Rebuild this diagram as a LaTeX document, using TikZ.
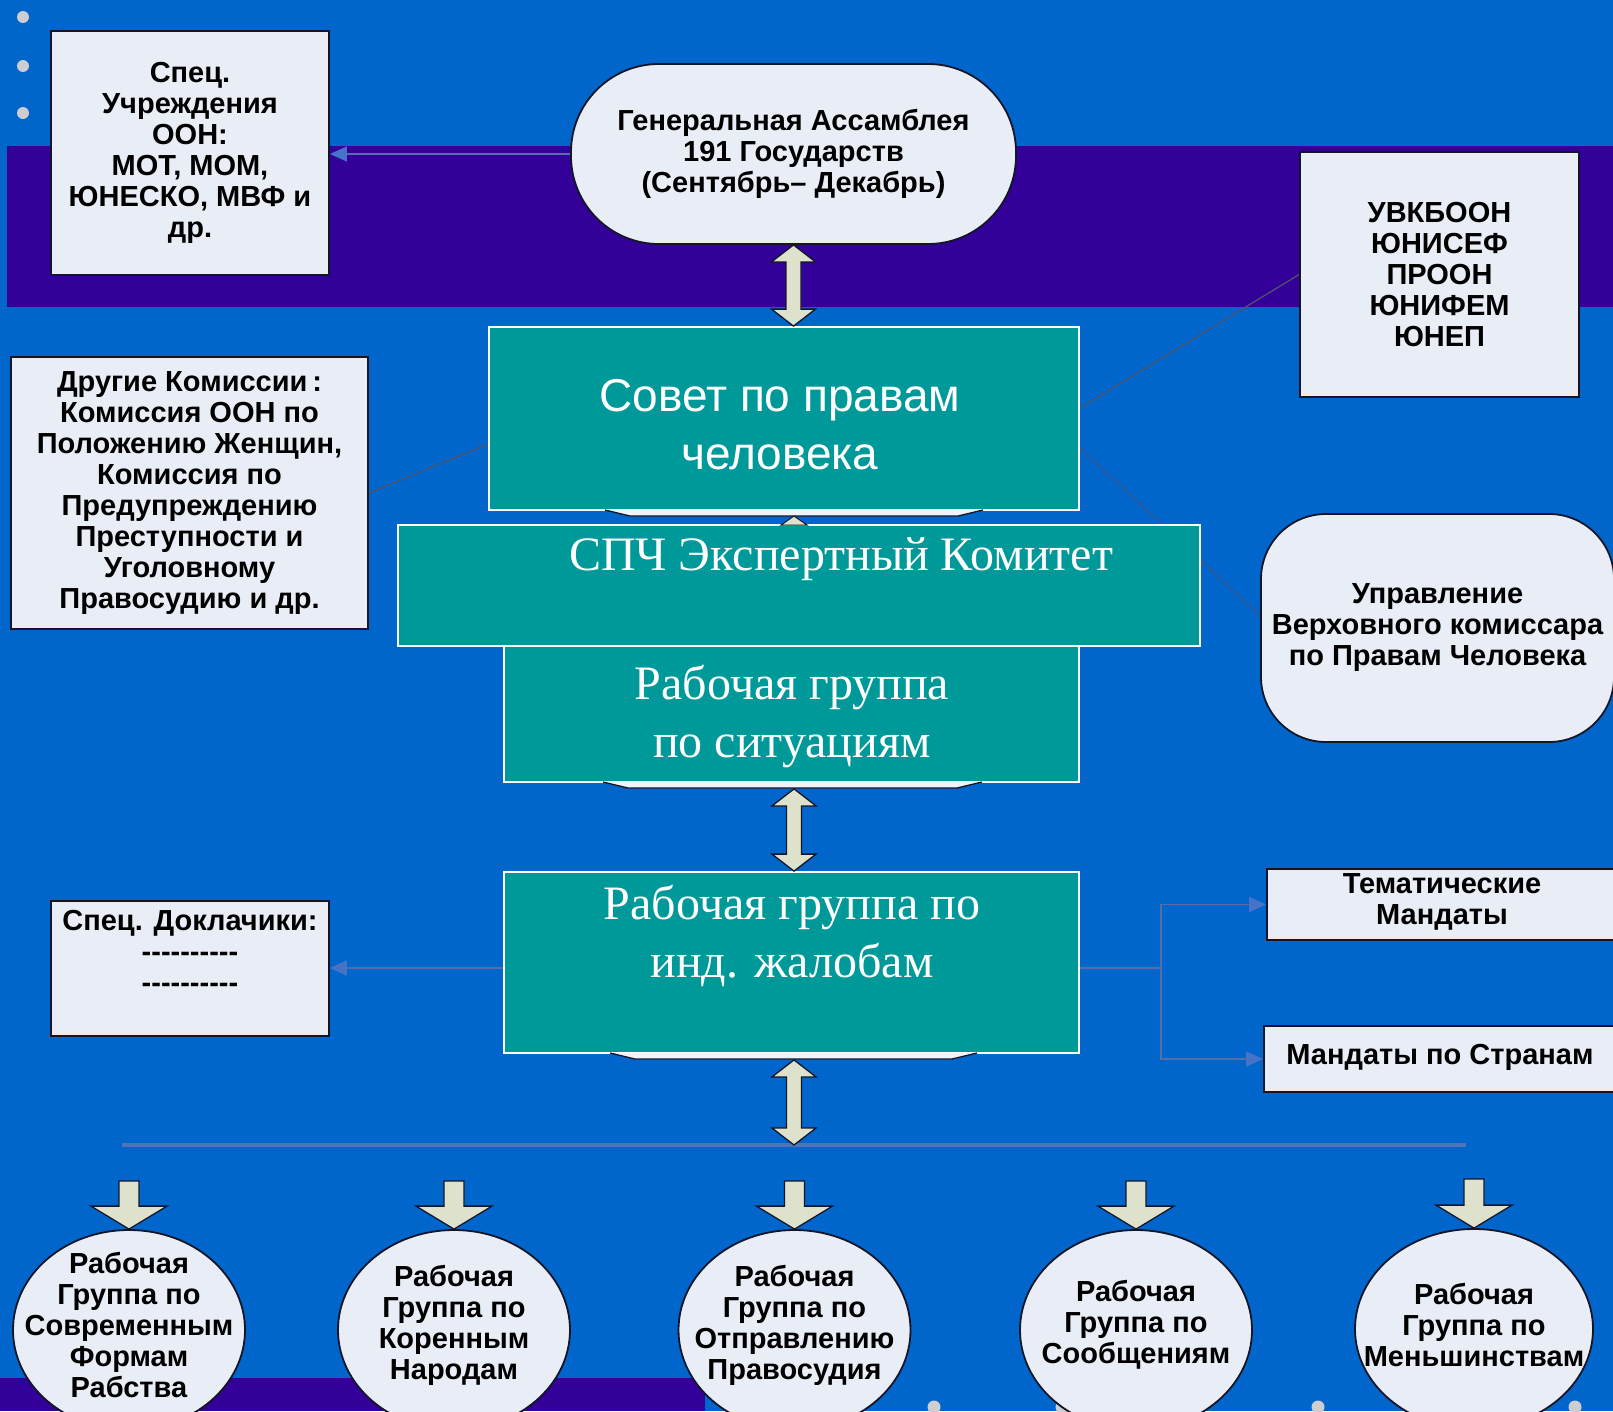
\documentclass[tikz,border=0pt]{standalone}
\usepackage{fontspec}
\setmainfont{Liberation Sans}
\newfontfamily\tnr{Liberation Serif}
\usetikzlibrary{arrows.meta,calc,shapes.geometric}
\pgfdeclarelayer{bglayer}
\pgfdeclarelayer{linelayer}
\pgfsetlayers{bglayer,linelayer,main}
\definecolor{bgblue}{RGB}{0,102,204}
\definecolor{bandpurple}{RGB}{51,0,153}
\definecolor{boxteal}{RGB}{0,153,153}
\definecolor{boxlight}{RGB}{232,237,246}
\definecolor{beige}{RGB}{222,225,203}
\definecolor{edgedark}{RGB}{20,22,40}
\definecolor{connblue}{RGB}{85,110,165}
\definecolor{tipblue}{RGB}{70,115,200}
\definecolor{thingray}{RGB}{80,85,105}
\definecolor{slateline}{RGB}{60,85,140}
\definecolor{hlblue}{RGB}{80,115,185}
\definecolor{dotgray}{RGB}{205,205,210}
\definecolor{shadowwhite}{RGB}{240,243,250}
\newcommand{\dashrow}{-{}-{}-{}-{}-{}-{}-{}-{}-{}-}
\newcommand{\dblarrow}[2]{%
  \draw[blockarrow] let \p1=(#1), \p2=(#2) in
    (\x1,\y1) -- (\x1+22pt,\y1-17pt) -- (\x1+7.5pt,\y1-17pt) -- (\x1+7.5pt,\y2+17pt)
    -- (\x1+22pt,\y2+17pt) -- (\x1,\y2) -- (\x1-22pt,\y2+17pt) -- (\x1-7.5pt,\y2+17pt)
    -- (\x1-7.5pt,\y1-17pt) -- (\x1-22pt,\y1-17pt) -- cycle;}
\newcommand{\downblk}[2]{%
  \draw[blockarrow] let \p1=(#1), \p2=(#2) in
    (\x1-10pt,\y1) -- (\x1+10pt,\y1) -- (\x1+10pt,\y2+23pt) -- (\x1+38pt,\y2+23pt)
    -- (\x1,\y2) -- (\x1-38pt,\y2+23pt) -- (\x1-10pt,\y2+23pt) -- cycle;}
\newcommand{\shadowbar}[3]{%
  \fill[shadowwhite] (#1,#3) -- (#1+25,#3+6) -- (#2-25,#3+6) -- (#2,#3) -- cycle;
  \draw[edgedark, line width=1.3pt] (#1,#3) -- (#1+25,#3+6) -- (#2-25,#3+6) -- (#2,#3);}
\tikzset{
  lightbox/.style={draw=edgedark, line width=1.8pt, fill=boxlight, inner sep=0pt,
    align=center, text=black, font=\bfseries\fontsize{29}{31}\selectfont},
  lbl/.style={inner sep=0pt, align=center, text=black, font=\bfseries\fontsize{29}{31}\selectfont},
  tealbox/.style={draw=white, line width=1.8pt, fill=boxteal, inner sep=0pt},
  tealsans/.style={inner sep=0pt, align=center, text=white, font=\fontsize{46}{58}\selectfont},
  tealserif/.style={inner sep=0pt, align=center, text=white, font=\tnr\fontsize{48}{58}\selectfont},
  oval/.style={ellipse, draw=edgedark, line width=1.8pt, fill=boxlight, inner sep=0pt},
  blockarrow/.style={draw=edgedark, line width=1.3pt, fill=beige, line join=miter},
  bluearrow/.style={draw=connblue, line width=1.5pt, -{Triangle[length=17pt,width=15pt,color=tipblue]}},
  thinconn/.style={draw=thingray, line width=1.2pt},
  slateconn/.style={draw=slateline, line width=1.2pt},
  busline/.style={draw=hlblue, line width=4pt}
}
\begin{document}
\begin{tikzpicture}[x=1pt,y=-1pt]
\useasboundingbox (0,0) rectangle (1613,1411);
\clip (0,0) rectangle (1613,1411);
% background
\begin{pgfonlayer}{bglayer}
\fill[bgblue] (0,0) rectangle (1613,1411);
\fill[bandpurple] (7,146) rectangle (1613,307);
\fill[bandpurple] (0,1378) rectangle (705,1411);
\foreach \yy in {17,66,113} \fill[dotgray] (23,\yy) circle (6pt);
\foreach \xx in {934,1062,1318,1575} \fill[dotgray] (\xx,1407) circle (6.5pt);
\end{pgfonlayer}

% main nodes
\node[lightbox, minimum width=278pt, minimum height=244pt] (s) at (190,153)
  {Спец.\\Учреждения\\ООН:\\МОТ, МОМ,\\ЮНЕСКО, МВФ и\\др.};
\node[lightbox, rounded corners=88pt, minimum width=445pt, minimum height=180pt] (ga) at (793.5,154)
  {Генеральная Ассамблея\\191 Государств\\(Сентябрь– Декабрь)};
\node[lightbox, minimum width=279pt, minimum height=245pt] (uv) at (1439.5,274.5)
  {УВКБООН\\ЮНИСЕФ\\ПРООН\\ЮНИФЕМ\\ЮНЕП};
\node[lightbox, minimum width=357pt, minimum height=272pt] (oth) at (189.5,493)
  {Другие Комиссии\,:\\Комиссия ООН по\\Положению Женщин,\\Комиссия по\\Предупреждению\\Преступности и\\Уголовному\\Правосудию и др.};
\node[lightbox, rounded corners=65pt, minimum width=353pt, minimum height=228pt] (upr) at (1437.5,628)
  {Управление\\Верховного комиссара\\по Правам Человека};
\node[lightbox, minimum width=278pt, minimum height=135pt] (dk) at (190,968.5) {};
\node[lightbox, minimum width=353pt, minimum height=71pt] (tem) at (1443.5,904.5) {};
\node[lightbox, minimum width=356pt, minimum height=66pt] (str) at (1442,1059) {};

% teal boxes
\node[tealbox, minimum width=590pt, minimum height=183pt] (sov) at (784,418.5) {};
\node[tealbox, minimum width=802pt, minimum height=121pt] (spch) at (799,585.5) {};
\node[tealbox, minimum width=575pt, minimum height=136pt] (sit) at (791.5,714) {};
\node[tealbox, minimum width=575pt, minimum height=181pt] (zh) at (791.5,962.5) {};

% thin connectors (behind the boxes)
\begin{pgfonlayer}{linelayer}
\draw[thinconn] (oth.east) -- ($(sov.west)+(0,25.5)$);
\draw[thinconn] ($(sov.east)+(0,-10.5)$) -- (uv.west);
\draw[slateconn] ($(sov.east)+(0,29.5)$) -- ($(upr.west)+(0,-12)$);
\end{pgfonlayer}

% texts
\node[tealsans] (sovT) at (780,425) {Совет по правам\\человека};
\node[tealserif] (spchT) at (841,559) {СПЧ Экспертный Комитет};
\node[tealserif] (sitT) at (792,716) {Рабочая группа\\по ситуациям};
\node[tealserif] (zhT) at (792,936) {Рабочая группа по\\инд. жалобам};
\node[lbl] (dkT) at (190,951) {Спец. Доклачики:\\\dashrow\\\dashrow};
\node[lbl] (temT) at (1442,902) {Тематические\\Мандаты};
\node[lbl] (strT) at (1440,1057) {Мандаты по Странам};

% shadow bars under teal boxes
\shadowbar{605}{983}{510}
\shadowbar{603}{982}{782}
\shadowbar{610}{977}{1053}
\fill[beige, draw=edgedark, line width=1pt] (794,516) -- (807,525) -- (781,525) -- cycle;

% blue arrow connectors
\draw[bluearrow] (ga.west) -- (ga.west -| s.east);
\coordinate (zhw) at ($(zh.west)+(0,5.5)$);
\coordinate (zhe) at ($(zh.east)+(0,5.5)$);
\coordinate (split) at ($(zhe)+(81,0)$);
\draw[bluearrow] (zhw) -- (zhw -| dk.east);
\draw[bluearrow] (zhe) -- (split) |- (tem.west);
\draw[bluearrow] (split) |- (str.west);

% bus line
\coordinate (busL) at (122,1145);
\coordinate (busR) at (1466,1145);
\coordinate (busM) at (794,1145);
\draw[busline] (busL) -- (busR);

% block double arrows
\coordinate (sitB) at ($(sit.south)+(2.5,6)$);
\coordinate (zhB) at ($(zh.south)+(2.5,6)$);
\coordinate (zhTop) at ($(zh.north)+(2.5,0)$);
\dblarrow{ga.south}{sov.north}
\dblarrow{sitB}{zhTop}
\dblarrow{zhB}{busM}

% bottom ovals
\node[oval, minimum width=232pt, minimum height=200pt] (e1) at (129,1330) {};
\node[oval, minimum width=232pt, minimum height=200pt] (e2) at (454,1330) {};
\node[oval, minimum width=232pt, minimum height=200pt] (e3) at (794.5,1330) {};
\node[oval, minimum width=232pt, minimum height=200pt] (e4) at (1136,1330) {};
\node[oval, minimum width=238pt, minimum height=200pt] (e5) at (1474,1329) {};
\node[lbl] (e1T) at (129,1325) {Рабочая\\Группа по\\Современным\\Формам\\Рабства};
\node[lbl] (e2T) at (454,1325) {Рабочая\\Группа по\\Коренным\\Народам};
\node[lbl] (e3T) at (794.5,1325) {Рабочая\\Группа по\\Отправлению\\Правосудия};
\node[lbl] (e4T) at (1136,1325) {Рабочая\\Группа по\\Сообщениям};
\node[lbl] (e5T) at (1474,1325) {Рабочая\\Группа по\\Меньшинствам};

% small down block arrows
\coordinate (d1) at (129,1181);
\coordinate (d2) at (454,1181);
\coordinate (d3) at (794.5,1181);
\coordinate (d4) at (1136,1181);
\coordinate (d5) at (1474,1179);
\downblk{d1}{e1.north}
\downblk{d2}{e2.north}
\downblk{d3}{e3.north}
\downblk{d4}{e4.north}
\downblk{d5}{e5.north}
\end{tikzpicture}
\end{document}
